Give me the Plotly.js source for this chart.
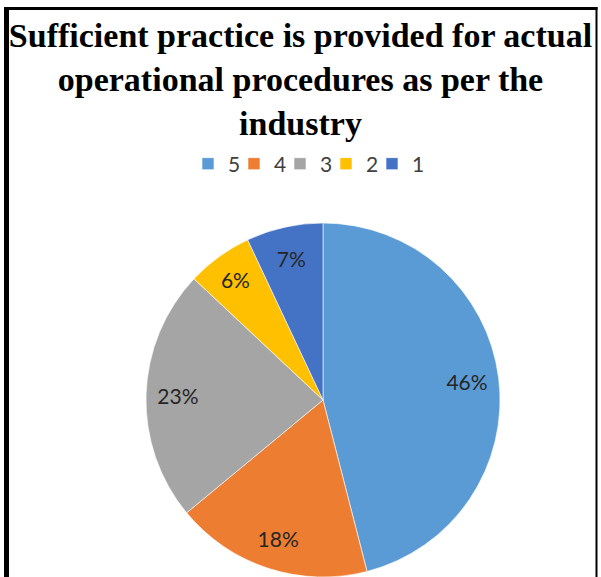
<!DOCTYPE html>
<html>
<head>
<meta charset="utf-8">
<script src="https://cdn.plot.ly/plotly-3.0.1.min.js"></script>
<style>html,body{margin:0;padding:0;background:#fff;}#chart{width:601px;height:577px;}</style>
</head>
<body>
<div id="chart"></div>
<script>
var categories = ["5", "4", "3", "2", "1"];
var values = [46, 18, 23, 6, 7];
var colors = ["#5B9BD5", "#ED7D31", "#A5A5A5", "#FFC000", "#4472C4"];
var chartTitle = "Sufficient practice is provided for actual<br>operational procedures as per the<br>industry";

var W = 601, H = 577;
var pieDomain = {x: [146 / W, 500 / W], y: [0, 354 / H]};

var pieTrace = {
  type: "pie",
  labels: categories,
  values: values,
  sort: false,
  direction: "clockwise",
  rotation: 0,
  domain: pieDomain,
  marker: {colors: colors, line: {color: "rgba(255,255,255,0.6)", width: 1}},
  textinfo: "none",
  hoverinfo: "label+percent",
  showlegend: true
};

var labelTrace = {
  type: "pie",
  labels: categories,
  values: values,
  sort: false,
  direction: "clockwise",
  rotation: 0,
  hole: 0.64,
  domain: pieDomain,
  marker: {colors: colors.map(function () { return "rgba(0,0,0,0)"; }), line: {width: 0}},
  texttemplate: "%{percent:.0%}",
  textposition: "inside",
  insidetextorientation: "horizontal",
  textfont: {family: "Lato, 'Open Sans', sans-serif", size: 21, color: "#262626"},
  hoverinfo: "skip",
  showlegend: false
};

// invisible spacer entry so the last legend label is not clipped
var spacerTrace = {
  type: "scatter",
  x: [null], y: [null],
  mode: "markers",
  name: " ",
  marker: {color: "rgba(0,0,0,0)", size: 1},
  hoverinfo: "skip",
  showlegend: true
};

var layout = {
  width: W,
  height: H,
  margin: {l: 0, r: 0, t: 0, b: 0},
  paper_bgcolor: "#ffffff",
  plot_bgcolor: "#ffffff",
  xaxis: {visible: false},
  yaxis: {visible: false},
  title: {
    text: "<b>" + chartTitle + "</b>",
    font: {family: "'Liberation Serif', 'Times New Roman', serif", size: 34, color: "#000000"},
    x: 0.5, xanchor: "center", xref: "paper",
    y: 1 - 47 / H, yanchor: "top", yref: "container"
  },
  legend: {
    orientation: "h",
    x: 326 / W, xanchor: "center",
    y: 1 - 164 / H, yanchor: "middle",
    font: {family: "Lato, 'Open Sans', sans-serif", size: 21, color: "#404040"},
    entrywidth: 1,
    entrywidthmode: "pixels",
    traceorder: "normal"
  },
  shapes: [
    {type: "line", xref: "paper", yref: "paper", x0: 6.5 / W, x1: 6.5 / W, y0: 0, y1: 1 - 7 / H, line: {color: "#000", width: 5}},
    {type: "line", xref: "paper", yref: "paper", x0: 4 / W, x1: 597.5 / W, y0: 1 - 8.5 / H, y1: 1 - 8.5 / H, line: {color: "#000", width: 3}},
    {type: "line", xref: "paper", yref: "paper", x0: 596.5 / W, x1: 596.5 / W, y0: 0, y1: 1 - 7 / H, line: {color: "#000", width: 2}}
  ]
};

Plotly.newPlot("chart", [pieTrace, labelTrace, spacerTrace], layout, {displayModeBar: false, staticPlot: true});
</script>
</body>
</html>
